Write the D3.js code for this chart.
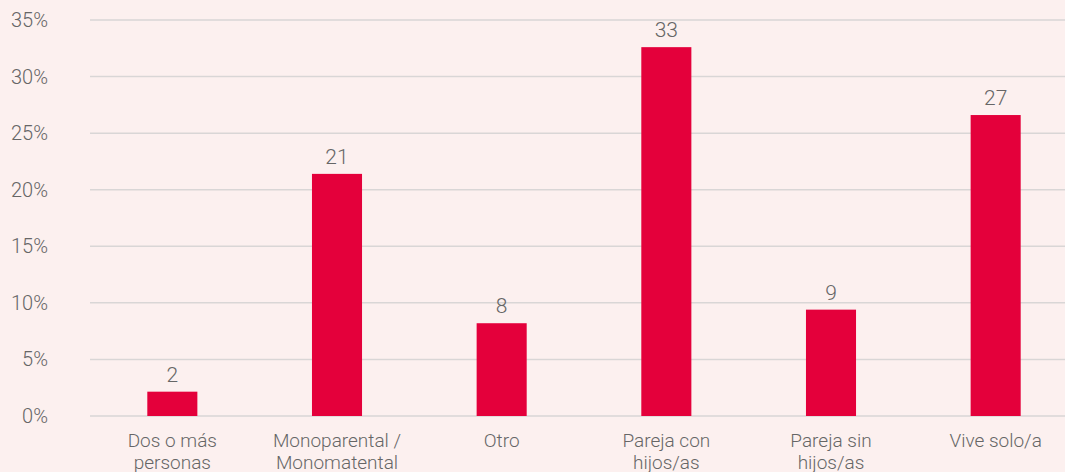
<!DOCTYPE html>
<html>
<head>
<meta charset="utf-8">
<script src="https://cdn.jsdelivr.net/npm/d3@7"></script>
<style>
  body { margin: 0; background: #fcf0ef; }
  svg { display: block; font-family: Roboto, "Noto Sans", sans-serif; }
</style>
</head>
<body>
<script>
const categories = [
    ["Dos o más", "personas"],
    ["Monoparental /", "Monomatental"],
    ["Otro"],
    ["Pareja con", "hijos/as"],
    ["Pareja sin", "hijos/as"],
    ["Vive solo/a"]
];
const values = [2.15, 21.4, 8.2, 32.6, 9.4, 26.6];
const labels = ["2", "21", "8", "33", "9", "27"];
const ticks = [0, 5, 10, 15, 20, 25, 30, 35];

const width = 1065;
const height = 472;

const svg = d3.select("body").append("svg")
    .attr("width", width)
    .attr("height", height);

const x = d3.scaleBand()
    .domain(d3.range(values.length))
    .range([90, 1078])
    .paddingInner(0.696)
    .paddingOuter(0.348);

const y = d3.scaleLinear()
    .domain([0, 35])
    .range([416, 20]);

// grid lines
svg.append("g")
    .selectAll("line")
    .data(ticks)
    .enter()
    .append("line")
    .attr("x1", 90)
    .attr("x2", width)
    .attr("y1", d => y(d))
    .attr("y2", d => y(d))
    .attr("stroke", "#d9d6d6")
    .attr("stroke-width", 1.5);

// y tick labels
svg.append("g")
    .selectAll("text")
    .data(ticks)
    .enter()
    .append("text")
    .attr("x", 48)
    .attr("y", d => y(d) + 7)
    .attr("text-anchor", "end")
    .attr("font-size", 20)
    .attr("font-weight", 300)
    .attr("fill", "#666")
    .text(d => d + "%");

// bars
svg.append("g")
    .selectAll("rect")
    .data(values)
    .enter()
    .append("rect")
    .attr("x", (d, i) => x(i))
    .attr("y", d => y(d))
    .attr("width", x.bandwidth())
    .attr("height", d => y(0) - y(d))
    .attr("fill", "#e4003b");

// value labels
svg.append("g")
    .selectAll("text")
    .data(values)
    .enter()
    .append("text")
    .attr("x", (d, i) => x(i) + x.bandwidth() / 2)
    .attr("y", d => y(d) - 10)
    .attr("text-anchor", "middle")
    .attr("font-size", 21)
    .attr("font-weight", 300)
    .attr("fill", "#666")
    .text((d, i) => labels[i]);

// category labels
const cat = svg.append("g")
    .selectAll("text")
    .data(categories)
    .enter()
    .append("text")
    .attr("x", (d, i) => x(i) + x.bandwidth() / 2)
    .attr("y", 447)
    .attr("text-anchor", "middle")
    .attr("font-size", 19)
    .attr("font-weight", 300)
    .attr("fill", "#666");

cat.selectAll("tspan")
    .data(d => d)
    .enter()
    .append("tspan")
    .attr("x", function () { return d3.select(this.parentNode).attr("x"); })
    .attr("dy", (d, i) => i === 0 ? 0 : 22)
    .text(d => d);
</script>
</body>
</html>
